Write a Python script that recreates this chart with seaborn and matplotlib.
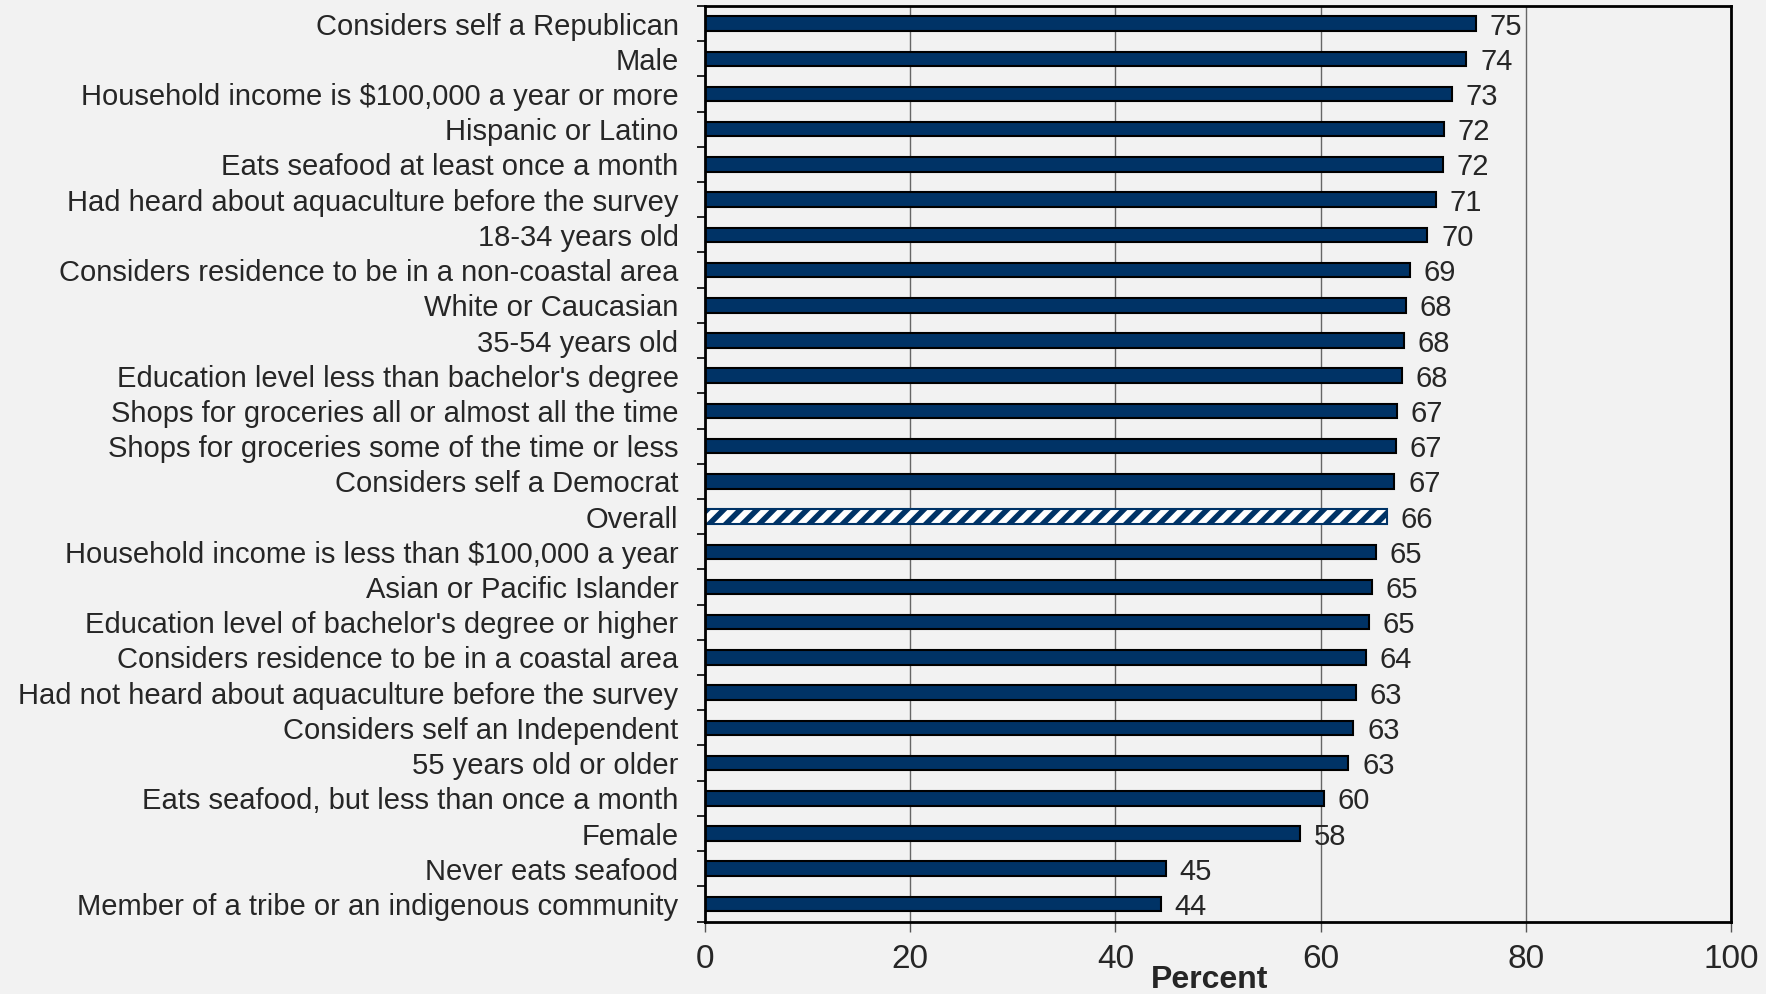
import numpy as np
import matplotlib
matplotlib.use("Agg")
import matplotlib.pyplot as plt
import seaborn as sns

# survey groups, top to bottom
groups = [
    "Considers self a Republican",
    "Male",
    "Household income is $100,000 a year or more",
    "Hispanic or Latino",
    "Eats seafood at least once a month",
    "Had heard about aquaculture before the survey",
    "18-34 years old",
    "Considers residence to be in a non-coastal area",
    "White or Caucasian",
    "35-54 years old",
    "Education level less than bachelor's degree",
    "Shops for groceries all or almost all the time",
    "Shops for groceries some of the time or less",
    "Considers self a Democrat",
    "Overall",
    "Household income is less than $100,000 a year",
    "Asian or Pacific Islander",
    "Education level of bachelor's degree or higher",
    "Considers residence to be in a coastal area",
    "Had not heard about aquaculture before the survey",
    "Considers self an Independent",
    "55 years old or older",
    "Eats seafood, but less than once a month",
    "Female",
    "Never eats seafood",
    "Member of a tribe or an indigenous community",
]
percent = [75.1, 74.2, 72.8, 72.0, 71.9, 71.2, 70.4, 68.7, 68.3, 68.1, 67.9,
           67.45, 67.35, 67.2, 66.45, 65.4, 65.0, 64.7, 64.4, 63.4, 63.2, 62.7,
           60.3, 58.0, 44.9, 44.4]
highlight = "Overall"
xticks = [0, 20, 40, 60, 80, 100]

navy = "#003366"
bg = "#f2f2f2"

sns.set_style("white")
plt.rcParams["font.family"] = ["Liberation Sans", "DejaVu Sans"]
plt.rcParams["hatch.linewidth"] = 4.0

fig = plt.figure(figsize=(17.66, 9.94), dpi=100, facecolor=bg)
ax = fig.add_axes([0.3992, 0.0729, 0.5810, 0.9211])
ax.set_facecolor(bg)

sns.barplot(x=percent, y=groups, orient="h", color=navy, saturation=1,
            edgecolor="black", linewidth=1.5, width=0.41, ax=ax)

# hatched "Overall" bar
p = ax.patches[groups.index(highlight)]
p.set_facecolor("white")
p.set_hatch("//")
if hasattr(p, "set_hatchcolor"):
    p.set_hatchcolor(navy)
else:
    p.set_edgecolor(navy)

vals = ax.bar_label(ax.containers[0], labels=[f"{v:.0f}" for v in percent],
                    padding=10, fontsize=21)
for t in vals:
    t.set_va("center_baseline")

ax.set_xlim(0, 100)
ax.set_ylim(len(groups) - 0.5, -0.5)
ax.set_xticks(xticks)
ax.set_yticks(np.arange(-0.5, len(groups), 1.0), minor=True)
ax.tick_params(axis="y", which="major", length=0, pad=19, labelsize=21)
ax.tick_params(axis="y", which="minor", length=6, width=1.2, direction="out",
               color="black", left=True)
ax.tick_params(axis="x", length=7, width=1, direction="out", color="#555555",
               labelsize=24, pad=9, bottom=True)

ax.set_axisbelow(True)
ax.xaxis.grid(True, color="#666666", linewidth=1)
for s in ax.spines.values():
    s.set_visible(True)
    s.set_color("black")
    s.set_linewidth(2)

ax.set_ylabel("")
ax.set_xlabel("Percent", fontsize=23, fontweight="bold")
ax.xaxis.set_label_coords(0.492, -0.047)
ax.xaxis.label.set_va("top")

fig.savefig("out.png", dpi=100, facecolor=bg)
